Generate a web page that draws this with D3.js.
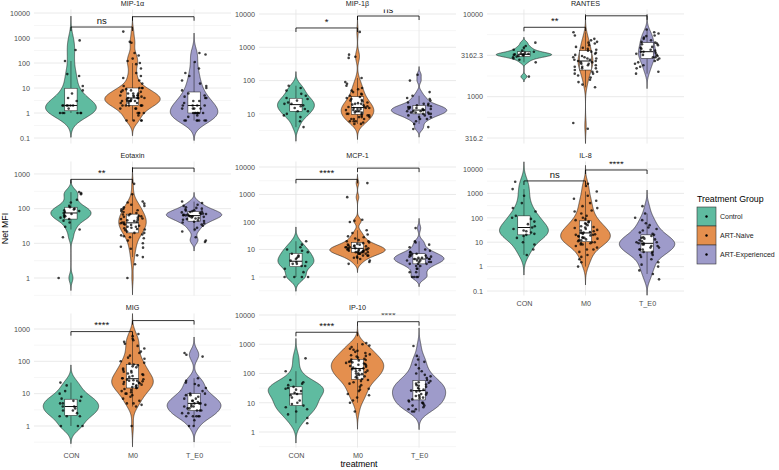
<!DOCTYPE html>
<html>
<head>
<meta charset="utf-8">
<script src="https://cdnjs.cloudflare.com/ajax/libs/d3/7.8.5/d3.min.js"></script>
<style>
  body { margin: 0; background: #fff; }
  text { font-family: "Liberation Sans", Arial, sans-serif; }
</style>
</head>
<body>
<svg id="chart" width="779" height="470"></svg>
<script>
// ---- data (Net MFI values, per group: CON, M0, T_E0) ----
const groups = ['CON', 'M0', 'T_E0'];
const groupNames = ['Control', 'ART-Naive', 'ART-Experienced'];
const groupColors = ['#5FBBA0', '#E48F4E', '#9E9BCA'];

const panelNames = ['MIP-1α', 'MIP-1β', 'RANTES', 'Eotaxin', 'MCP-1', 'IL-8', 'MIG', 'IP-10'];

// y limits of each panel, log10 units
const yLimits = [[-1.22, 4.14], [0.11, 4.135], [2.434, 4.054],
                 [-0.505, 3.36], [-0.673, 4.2], [-1.184, 4.307],
                 [-0.665, 3.479], [-0.53, 4.051]];
// spacing of labelled breaks, in decades
const breakStep = [1, 1, 0.5, 1, 1, 1, 1, 1];

// significance brackets: CON vs M0, M0 vs T_E0
const sigLabel1 = ['ns', '*', '**', '**', '****', 'ns', '****', '****'];
const sigLabel2 = ['', 'ns', '', '', '', '****', '', '****'];
const sigY1 = [2750, 3800, 6900, 700, 3550, 3240, 830, 2570];
const sigY2 = [7100, 8700, 9500, 1480, 9100, 9100, 1820, 5900];

const mip1a = [
  [800, 330, 120, 36, 30, 12, 8, 6, 4, 3, 2, 2, 2, 2, 2, 2, 1.5, 1, 1, 1, 1, 1, 1],
  [1800, 700, 650, 250, 200, 150, 120, 100, 90, 60, 40, 30, 25, 20, 15, 12, 10, 10, 10,
   9, 8, 8, 7, 7, 6, 6, 6, 5, 5, 5, 5, 4.5, 4.5, 4, 4, 4, 4, 4, 3.5, 3.5, 3, 3, 3, 3, 3, 3,
   2.5, 2.5, 2.5, 2, 2, 2, 2, 2, 2, 1.5, 1.5, 1.5, 1, 1, 1, 1, 0.8, 0.5, 0.5, 0.5, 0.5],
  [250, 220, 110, 60, 40, 30, 20, 15, 12, 10, 8, 6, 5, 4.5, 4, 4, 3, 3, 2.5, 2, 2, 2, 2,
   1.5, 1.5, 1.5, 1.5, 1, 1, 1, 1, 1, 1, 1, 0.8, 0.7, 0.5, 0.5, 0.5, 0.5, 0.5, 0.5, 0.5]
];
const mip1b = [
  [70, 60, 50, 40, 35, 30, 28, 25, 22, 20, 20, 18, 17, 15, 14, 12, 12, 10, 9, 8, 6, 4],
  [2900, 600, 520, 480, 120, 90, 80, 70, 60, 55, 50, 45, 40, 38, 35, 32, 30, 28, 26, 25,
   24, 22, 21, 20, 20, 19, 18, 17, 16, 16, 15, 15, 15, 14, 14, 13, 13, 12, 12, 12, 11, 11,
   10, 10, 10, 9, 9, 9, 8, 8, 8, 7, 7, 7, 6, 6, 6, 5.5, 5, 5],
  [150, 100, 45, 35, 30, 28, 25, 22, 20, 20, 18, 18, 17, 16, 16, 15, 15, 14, 14, 14, 13,
   13, 12, 12, 12, 11, 11, 11, 10, 10, 10, 9, 9, 8, 8, 7, 7, 6, 5, 4, 3.5]
];
const rantes = [
  [4500, 4100, 3900, 3700, 3600, 3500, 3400, 3350, 3300, 3250, 3250, 3200, 3200, 3150,
   3100, 3050, 3000, 2900, 2800, 2600, 1750],
  [6000, 5500, 5000, 4800, 4600, 4500, 4400, 4200, 4000, 3900, 3800, 3700, 3600, 3500,
   3400, 3300, 3200, 3100, 3000, 3000, 2900, 2900, 2800, 2800, 2700, 2700, 2600, 2600,
   2500, 2500, 2400, 2400, 2300, 2300, 2200, 2200, 2100, 2000, 2000, 1900, 1900, 1800,
   1700, 1600, 1500, 1400, 1300, 480, 410],
  [6500, 6000, 5800, 5500, 5400, 5200, 5000, 4800, 4600, 4500, 4400, 4300, 4200, 4000,
   3900, 3800, 3700, 3600, 3500, 3500, 3400, 3300, 3200, 3200, 3100, 3000, 3000, 2900,
   2800, 2700, 2600, 2500, 2400, 2300, 2200, 2000, 1900]
];
const eotaxin = [
  [300, 280, 260, 180, 150, 120, 110, 100, 95, 90, 85, 80, 75, 70, 65, 60, 58, 55, 50,
   45, 40, 30, 25, 15, 1],
  [520, 260, 160, 150, 140, 130, 120, 110, 100, 95, 90, 85, 80, 75, 70, 68, 65, 62, 60,
   58, 55, 52, 50, 48, 46, 44, 42, 40, 40, 38, 36, 35, 34, 32, 30, 30, 28, 27, 26, 25,
   24, 22, 20, 20, 18, 17, 16, 15, 14, 12, 10, 8, 7.5, 7, 4.5, 4, 2.5, 1],
  [160, 145, 130, 120, 110, 105, 100, 95, 90, 88, 85, 82, 80, 78, 75, 72, 70, 70, 68, 66,
   65, 64, 62, 60, 60, 58, 56, 54, 52, 50, 48, 46, 44, 42, 40, 38, 35, 32, 28, 25, 22,
   15, 12, 11]
];
const mcp1 = [
  [20, 15, 12, 10, 9, 8, 7, 6, 5.5, 5, 4.5, 4, 3.5, 3.5, 3, 3, 2.5, 2.5, 2, 1.5, 1, 1, 1, 1],
  [2600, 800, 120, 110, 100, 50, 40, 35, 30, 28, 25, 22, 20, 20, 18, 17, 16, 15, 15, 14,
   14, 13, 13, 12, 12, 12, 11, 11, 11, 10, 10, 10, 10, 10, 9, 9, 9, 9, 8, 8, 8, 8, 8, 7,
   7, 7, 7, 6, 6, 6, 5.5, 5, 5, 4.5, 4, 3.5, 3],
  [60, 20, 18, 15, 12, 10, 9, 8, 8, 7, 7, 6.5, 6, 6, 5.5, 5.5, 5, 5, 5, 4.5, 4.5, 4.5, 4,
   4, 4, 3.5, 3.5, 3.5, 3, 3, 3, 2.5, 2.5, 2, 2, 1.5, 1.5, 1, 1, 1, 1]
];
const il8 = [
  [3000, 1500, 800, 400, 250, 180, 120, 100, 90, 70, 55, 45, 40, 35, 30, 28, 25, 22, 20,
   18, 15, 10, 8, 5, 3],
  [2500, 2000, 1200, 800, 600, 500, 400, 300, 250, 200, 180, 150, 120, 100, 90, 80, 70,
   65, 60, 55, 50, 45, 42, 40, 38, 35, 32, 30, 28, 26, 25, 24, 22, 21, 20, 20, 19, 18,
   17, 16, 15, 15, 14, 13, 12, 12, 11, 10, 10, 9, 9, 8, 8, 7, 6, 5, 5, 4, 3, 2.5, 2, 1.5, 1],
  [300, 150, 100, 80, 60, 50, 40, 35, 30, 25, 22, 20, 18, 16, 15, 14, 13, 12, 11, 10, 10,
   9, 9, 8, 8, 7, 7, 6, 6, 5, 5, 5, 4, 4, 3.5, 3, 3, 2.5, 2, 1.5, 1.2, 1, 0.7, 0.5, 0.3]
];
const mig = [
  [22, 18, 12, 10, 8, 7, 6, 6, 5, 5, 4, 4, 3.5, 3, 3, 2.5, 2, 2, 2, 1, 1, 1],
  [700, 600, 500, 450, 400, 350, 300, 250, 200, 180, 150, 130, 120, 100, 90, 85, 80, 75,
   70, 65, 60, 55, 50, 48, 45, 42, 40, 38, 35, 33, 30, 30, 28, 27, 26, 25, 25, 24, 23, 22,
   21, 20, 20, 19, 18, 17, 16, 15, 15, 14, 13, 12, 11, 10, 10, 9, 8, 7, 6, 5, 5, 4.5, 4, 1],
  [180, 160, 140, 30, 25, 22, 20, 18, 15, 12, 10, 10, 9, 9, 8, 7, 7, 6, 6, 5.5, 5, 5, 5,
   4.5, 4.5, 4, 4, 4, 3.5, 3.5, 3, 3, 3, 2.5, 2.5, 2, 2, 2, 2, 2, 1.5, 1, 1]
];
const ip10 = [
  [330, 120, 60, 50, 45, 40, 35, 32, 30, 28, 25, 22, 20, 18, 15, 12, 10, 9, 8, 7, 6, 5, 4, 3, 2],
  [1100, 1000, 900, 800, 700, 650, 600, 550, 500, 450, 420, 400, 380, 350, 320, 300, 290,
   280, 260, 250, 240, 230, 220, 210, 200, 190, 180, 170, 160, 150, 145, 140, 130, 125,
   120, 110, 100, 100, 95, 90, 85, 80, 75, 70, 65, 60, 55, 50, 45, 40, 35, 30, 28, 25,
   20, 18, 15, 12, 10, 5],
  [870, 400, 300, 250, 200, 150, 120, 100, 90, 80, 70, 60, 55, 50, 48, 45, 42, 40, 38, 35,
   32, 30, 28, 26, 25, 24, 22, 20, 19, 18, 17, 16, 15, 14, 13, 12, 11, 10, 10, 9, 8, 8,
   7, 6, 6, 5, 5]
];
const panelData = [mip1a, mip1b, rantes, eotaxin, mcp1, il8, mig, ip10];

// ---- layout ----
const svg = d3.select('#chart');
const colX = [34, 259, 487];
const rowY = [9.5, 161.5, 313.5];
const panelW = 197, panelH = 134;
const bottomPanels = [5, 6, 7]; // panels that carry the x axis labels

const rng = d3.randomLcg(0.4187);
const jitter = d3.randomUniform.source(rng)(-0.2, 0.2);

// gaussian kde, nrd0 bandwidth, not trimmed (like geom_violin(trim = FALSE))
function density(vals) {
  const n = vals.length;
  const sd = d3.deviation(vals);
  const iqr = d3.quantile(vals, 0.75) - d3.quantile(vals, 0.25);
  let s = Math.min(sd, iqr / 1.34);
  if (!s) s = sd || 1;
  const bw = 0.9 * s * Math.pow(n, -0.2);
  const [mn, mx] = d3.extent(vals);
  const from = mn - 3 * bw, to = mx + 3 * bw;
  return d3.range(257).map(i => {
    const y = from + (to - from) * i / 256;
    const d = d3.sum(vals, v => Math.exp(-0.5 * ((y - v) / bw) ** 2)) / (n * bw * Math.sqrt(2 * Math.PI));
    return { y, d };
  });
}

const fmt = v => String(+v.toFixed(1));

panelData.forEach((data, p) => {
  const col = p % 3, row = Math.floor(p / 3);
  const x0 = colX[col], y0 = rowY[row];
  const [lo, hi] = yLimits[p];

  const x = d3.scalePoint().domain(groups).range([x0, x0 + panelW]).padding(0.6);
  const y = d3.scaleLog().domain([10 ** lo, 10 ** hi]).range([y0 + panelH, y0]);
  const step = x.step();

  const g = svg.append('g');
  g.append('clipPath').attr('id', 'clip' + p)
    .append('rect').attr('x', x0).attr('y', y0).attr('width', panelW).attr('height', panelH);

  // breaks
  const bs = breakStep[p];
  const major = d3.range(Math.ceil(lo / bs) * bs, hi + 1e-9, bs);
  const minor = d3.range(Math.ceil(lo / bs - 0.5) * bs + bs / 2, hi, bs)
    .filter(v => v > lo && v < hi);

  g.append('g').selectAll('line').data(minor).join('line')
    .attr('x1', x0).attr('x2', x0 + panelW)
    .attr('y1', d => y(10 ** d)).attr('y2', d => y(10 ** d))
    .attr('stroke', '#ececec').attr('stroke-width', 0.5);
  g.append('g').selectAll('line').data(major).join('line')
    .attr('x1', x0).attr('x2', x0 + panelW)
    .attr('y1', d => y(10 ** d)).attr('y2', d => y(10 ** d))
    .attr('stroke', '#e4e4e4').attr('stroke-width', 0.8);
  g.append('g').selectAll('line').data(groups).join('line')
    .attr('x1', d => x(d)).attr('x2', d => x(d))
    .attr('y1', y0).attr('y2', y0 + panelH)
    .attr('stroke', '#e4e4e4').attr('stroke-width', 0.8);

  // y axis
  const yAxis = g.append('g').attr('transform', `translate(${x0},0)`)
    .call(d3.axisLeft(y).tickValues(major.map(v => 10 ** v)).tickSize(0).tickPadding(4)
      .tickFormat(fmt));
  yAxis.select('.domain').remove();
  yAxis.selectAll('text').attr('font-size', 7.2).attr('fill', '#4d4d4d')
    .attr('font-family', '"Liberation Sans", Arial, sans-serif');

  // x axis on the bottom panels
  if (bottomPanels.includes(p)) {
    const xAxis = g.append('g').attr('transform', `translate(0,${y0 + panelH})`)
      .call(d3.axisBottom(x).tickSize(0).tickPadding(5));
    xAxis.select('.domain').remove();
    xAxis.selectAll('text').attr('font-size', 7.2).attr('fill', '#4d4d4d')
      .attr('font-family', '"Liberation Sans", Arial, sans-serif');
  }

  // strip title
  g.append('text').attr('x', x0 + panelW / 2).attr('y', y0 - 3.5)
    .attr('text-anchor', 'middle').attr('font-size', 7.2).attr('fill', '#1a1a1a')
    .text(panelNames[p]);

  const plot = g.append('g').attr('clip-path', `url(#clip${p})`);

  // violins, scale = "area"
  const logs = data.map(vals => vals.map(v => Math.log10(v)));
  const dens = logs.map(density);
  const maxD = d3.max(dens, ds => d3.max(ds, d => d.d));
  const w = d3.scaleLinear().domain([0, maxD]).range([0, 0.45 * step]);

  dens.forEach((ds, i) => {
    const cx = x(groups[i]);
    const area = d3.area()
      .y(d => y(10 ** d.y))
      .x0(d => cx - w(d.d))
      .x1(d => cx + w(d.d));
    plot.append('path').attr('d', area(ds))
      .attr('fill', groupColors[i]).attr('stroke', '#222').attr('stroke-width', 0.6);
  });

  // box plots (outliers hidden)
  logs.forEach((ls, i) => {
    const cx = x(groups[i]);
    const q1 = d3.quantile(ls, 0.25), q2 = d3.quantile(ls, 0.5), q3 = d3.quantile(ls, 0.75);
    const iqr = q3 - q1;
    const wLo = d3.min(ls.filter(v => v >= q1 - 1.5 * iqr));
    const wHi = d3.max(ls.filter(v => v <= q3 + 1.5 * iqr));
    const bw = 0.2 * step / 2;
    const bx = plot.append('g').attr('stroke', '#111').attr('stroke-width', 0.5);
    bx.append('line').attr('x1', cx).attr('x2', cx).attr('y1', y(10 ** wHi)).attr('y2', y(10 ** q3));
    bx.append('line').attr('x1', cx).attr('x2', cx).attr('y1', y(10 ** q1)).attr('y2', y(10 ** wLo));
    bx.append('rect').attr('x', cx - bw).attr('width', 2 * bw)
      .attr('y', y(10 ** q3)).attr('height', y(10 ** q1) - y(10 ** q3)).attr('fill', '#fff');
    bx.append('line').attr('x1', cx - bw).attr('x2', cx + bw)
      .attr('y1', y(10 ** q2)).attr('y2', y(10 ** q2)).attr('stroke-width', 1);
  });

  // jittered points
  data.forEach((vals, i) => {
    const cx = x(groups[i]);
    plot.append('g').selectAll('circle').data(vals).join('circle')
      .attr('cx', () => cx + jitter() * step)
      .attr('cy', d => y(d))
      .attr('r', 1.3)
      .attr('fill', '#000').attr('fill-opacity', 0.75);
  });

  // significance brackets
  const tip = 0.03 * panelH;
  [[0, 1, sigY1[p], sigLabel1[p]], [1, 2, sigY2[p], sigLabel2[p]]].forEach(([a, b, v, lab]) => {
    const xa = x(groups[a]), xb = x(groups[b]), yy = y(v);
    plot.append('path')
      .attr('d', `M${xa},${yy + tip}L${xa},${yy}L${xb},${yy}L${xb},${yy + tip}`)
      .attr('fill', 'none').attr('stroke', '#000').attr('stroke-width', 0.8);
    if (lab) {
      plot.append('text').attr('x', (xa + xb) / 2).attr('y', yy - 3.2)
        .attr('text-anchor', 'middle').attr('font-size', 9.5).attr('fill', '#111')
        .text(lab);
    }
  });
});

// axis titles
svg.append('text').attr('transform', `translate(8,${rowY[0] + (rowY[2] + panelH - rowY[0]) / 2}) rotate(-90)`)
  .attr('text-anchor', 'middle').attr('font-size', 8.8).attr('fill', '#000').text('Net MFI');
svg.append('text').attr('x', (colX[0] + colX[2] + panelW) / 2).attr('y', 467)
  .attr('text-anchor', 'middle').attr('font-size', 8.8).attr('fill', '#000').text('treatment');

// legend
const legend = svg.append('g').attr('transform', 'translate(697,207)');
legend.append('text').attr('x', 0).attr('y', -5).attr('font-size', 8.8).attr('fill', '#000')
  .text('Treatment Group');
groupNames.forEach((name, i) => {
  const k = legend.append('g').attr('transform', `translate(0,${i * 19})`);
  k.append('rect').attr('width', 19).attr('height', 19)
    .attr('fill', groupColors[i]).attr('stroke', '#333').attr('stroke-width', 0.6);
  k.append('circle').attr('cx', 9.5).attr('cy', 9.5).attr('r', 1.2).attr('fill', '#000');
  k.append('text').attr('x', 23).attr('y', 12).attr('font-size', 7).attr('fill', '#1a1a1a')
    .text(name);
});
</script>
</body>
</html>
